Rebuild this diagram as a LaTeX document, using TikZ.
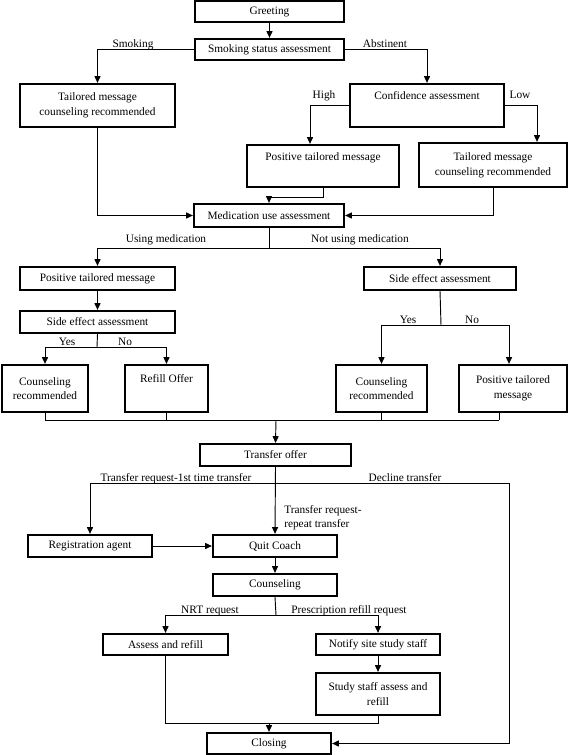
\documentclass[tikz,border=0pt]{standalone}
\usepackage{fontspec}
\setmainfont{Liberation Serif}
\usetikzlibrary{arrows.meta,calc}
\newcommand\fs{\fontsize{8.5}{11}\selectfont}
\newcommand\mybox[6]{\node[box,minimum width={(#3-#2)*0.75pt},minimum height={(#5-#4)*0.75pt}] (#1) at ({(#2+#3)/2},{(#4+#5)/2}) {#6};}
\begin{document}
\begin{tikzpicture}[x=0.75pt,y=-0.75pt,
  box/.style={draw,line width=1.7pt,align=center,inner sep=0pt,font=\fs},
  ln/.style={line width=0.7pt},
  arr/.style={ln,-{Triangle[length=5pt,width=4.5pt]}},
  lbl/.style={font=\fs,inner sep=0pt,anchor=base}]
\useasboundingbox (0,0) rectangle (569,755);
% boxes
\mybox{greet}{195}{344}{1}{22}{Greeting}
\mybox{ssa}{195}{344}{39}{60}{Smoking status assessment}
\mybox{tmL}{20}{175}{84}{127}{Tailored message\\counseling recommended}
\mybox{conf}{350}{504}{84}{127}{Confidence assessment\\\strut}
\mybox{ptm}{247}{399}{145}{187}{Positive tailored message\\\strut}
\mybox{tmR}{419}{567}{143}{187}{Tailored message\\counseling recommended}
\mybox{mua}{194}{344}{204}{227}{Medication use assessment}
\mybox{ptmL}{20}{175}{267}{290}{Positive tailored message}
\mybox{seaR}{364}{516}{267}{290}{Side effect assessment}
\mybox{seaL}{20}{175}{311}{333}{Side effect assessment}
\mybox{crL}{2}{88}{365}{412}{Counseling\\recommended}
\mybox{ro}{125}{208}{365}{412}{Refill Offer\\\strut}
\mybox{crR}{336}{427}{365}{412}{Counseling\\recommended}
\mybox{ptmR}{459}{567}{365}{412}{Positive tailored\\message}
\mybox{to}{200}{351}{444}{466}{Transfer offer}
\mybox{reg}{28}{152}{535}{557}{Registration agent}
\mybox{qc}{213}{337}{535}{557}{Quit Coach}
\mybox{cou}{213}{337}{574}{596}{Counseling}
\mybox{ar}{103}{228}{634}{655}{Assess and refill}
\mybox{ns}{316}{440}{634}{655}{Notify site study staff}
\mybox{ss}{316}{440}{673}{715}{Study staff assess and\\refill}
\mybox{clo}{207}{331}{733}{754}{Closing}
% junction coordinates
\coordinate (jp) at (269,197);
\coordinate (jm) at (269,248);
\coordinate (jsL) at (97,347);
\coordinate (jsR) at (441,325);
\coordinate (jb) at (276,420);
\coordinate (jbL) at (45,420);
\coordinate (jbR) at (499,420);
\coordinate (jt) at (276,483);
\coordinate (jd) at (509,483);
\coordinate (jc) at (276,615);
\coordinate (je) at (269,723);
% connectors
\draw[arr] (greet) -- (ssa);
\draw[arr] (ssa.west) -| (tmL.north);
\draw[arr] (ssa.east) -| (conf.north);
\draw[arr] (conf.west) -| ($(ptm.north)+(-13,0)$);
\draw[arr] (conf.east) -| ($(tmR.north)+(44,0)$);
\draw[arr] (tmL.south) |- (mua.west);
\draw[arr] (tmR.south) |- (mua.east);
\draw[ln] (ptm.south) |- (jp);
\draw[arr] (jp) -- (mua.north);
\draw[ln] (mua.south) -- (jm);
\draw[arr] (jm) -| (ptmL.north);
\draw[arr] (jm) -| (seaR.north);
\draw[arr] (ptmL) -- (seaL);
\draw[ln] (seaL.south) -- (jsL);
\draw[arr] (jsL) -| (crL.north);
\draw[arr] (jsL) -| (ro.north);
\draw[ln] (seaR.south) -- (jsR);
\draw[arr] (jsR) -| (crR.north);
\draw[arr] (jsR) -| ($(ptmR.north)+(-4,0)$);
\draw[ln] (crL.south) -- (jbL) -- (jbR);
\draw[ln] (ro.south) -- (ro.south |- jb);
\draw[ln] (crR.south) -- (crR.south |- jb);
\draw[ln] ($(ptmR.south)+(-14,0)$) -- (jbR);
\draw[arr] (jb) -- (to.north);
\draw[arr] (to.south) -- (qc.north);
\draw[arr] (jd) -| (reg.north);
\draw[ln] (jt) -- (jd);
\draw[arr] (jd) |- (clo.east);
\draw[arr] (reg) -- (qc);
\draw[arr] (qc) -- (cou);
\draw[ln] (cou.south) -- (jc);
\draw[arr] (jc) -| (ar.north);
\draw[arr] (jc) -| (ns.north);
\draw[arr] (ns) -- (ss);
\draw[ln] (ar.south) |- (je);
\draw[ln] (ss.south) |- (je);
\draw[arr] (je) -- (clo.north);
% labels
\node[lbl] at (133,48) {Smoking};
\node[lbl] at (385,48) {Abstinent};
\node[lbl] at (324,99) {High};
\node[lbl] at (520,99) {Low};
\node[lbl] at (166,243) {Using medication};
\node[lbl] at (360,243) {Not using medication};
\node[lbl] at (67,345) {Yes};
\node[lbl] at (125,345) {No};
\node[lbl] at (408,323) {Yes};
\node[lbl] at (472,323) {No};
\node[lbl] at (176,481) {Transfer request-1st time transfer};
\node[lbl] at (405,481) {Decline transfer};
\node[font=\fs,inner sep=0pt,anchor=north west,align=left] at (284,505) {Transfer request-\\repeat transfer};
\node[lbl] at (210,613) {NRT request};
\node[lbl] at (349,613) {Prescription refill request};
\end{tikzpicture}
\end{document}
